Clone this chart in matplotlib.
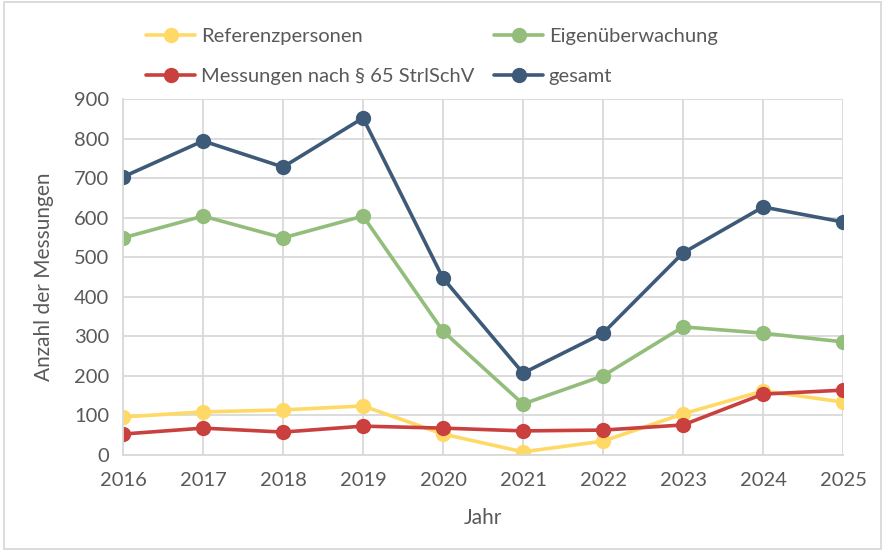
import matplotlib.pyplot as plt
from matplotlib.patches import Rectangle

# Werte
jahre = [2016, 2017, 2018, 2019, 2020, 2021, 2022, 2023, 2024, 2025]
referenzpersonen = [96, 109, 114, 124, 53, 8, 35, 104, 162, 134]
eigenueberwachung = [549, 604, 549, 604, 313, 129, 200, 324, 308, 286]
messungen_65 = [53, 68, 58, 73, 68, 61, 63, 76, 154, 164]
gesamt = [703, 794, 728, 852, 447, 207, 308, 511, 627, 589]

serien = [
    ("Referenzpersonen", referenzpersonen, "#FFD966"),
    ("Eigenüberwachung", eigenueberwachung, "#93BD7B"),
    ("Messungen nach § 65 StrlSchV", messungen_65, "#C9403E"),
    ("gesamt", gesamt, "#3D5A78"),
]

plt.rcParams['font.family'] = ['Lato', 'DejaVu Sans']
textfarbe = "#595959"

fig = plt.figure(figsize=(8.85, 5.51), dpi=100)
ax = fig.add_axes([0.139, 0.1742, 0.8136, 0.6461])

linien = {}
for name, werte, farbe in serien:
    (l,) = ax.plot(jahre, werte, color=farbe, lw=2.6, marker="o", ms=10,
                   label=name, solid_capstyle="round")
    linien[name] = l

ax.set_xlim(2016, 2025)
ax.set_ylim(0, 900)
ax.set_xticks(jahre)
ax.set_yticks(range(0, 901, 100))
ax.grid(True, color="#D9D9D9", lw=1.3)
ax.set_axisbelow(True)
for s in ["top", "right"]:
    ax.spines[s].set_visible(False)
for s in ["left", "bottom"]:
    ax.spines[s].set_color("#D9D9D9")
    ax.spines[s].set_linewidth(1.3)
ax.tick_params(length=0, labelsize=14.5, colors=textfarbe)
ax.tick_params(axis="x", pad=12)
ax.tick_params(axis="y", pad=10)
for lab in ax.get_xticklabels() + ax.get_yticklabels():
    lab.set_clip_on(False)

ax.set_xlabel("Jahr", fontsize=15, color=textfarbe, labelpad=14)
ax.set_ylabel("Anzahl der Messungen", fontsize=15, color=textfarbe, labelpad=14)

reihenfolge = ["Referenzpersonen", "Messungen nach § 65 StrlSchV",
               "Eigenüberwachung", "gesamt"]
fig.legend([linien[n] for n in reihenfolge], reihenfolge, ncol=2,
           loc="upper left", bbox_to_anchor=(0.145, 0.982), frameon=False,
           fontsize=14.5, labelcolor=textfarbe, handlelength=2.4,
           handletextpad=0.3, columnspacing=1.0, labelspacing=1.15)

fig.patches.append(Rectangle((0.004, 0.004), 0.992, 0.992, transform=fig.transFigure,
                             fill=False, edgecolor="#D9D9D9", lw=1.3))

fig.savefig("out.png", dpi=100)
